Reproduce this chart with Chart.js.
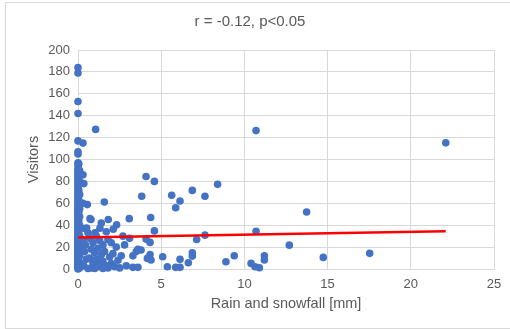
<!DOCTYPE html>
<html>
<head>
<meta charset="utf-8">
<script src="https://cdn.jsdelivr.net/npm/chart.js@4"></script>
<style>
  html, body { margin: 0; padding: 0; background: #fff; overflow: hidden; width: 510px; height: 329px; }
  #frame { position: absolute; left: 5px; top: 2px; width: 556px; height: 325px; border: 1px solid #d9d9d9; }
  #frame canvas { position: absolute; left: 0; top: 0; }
</style>
</head>
<body>
<div id="frame"><canvas id="chart" width="556" height="325"></canvas></div>
<script>
// rain and snowfall [mm] per day
const rain = [
	0,0,0,0,0,0,0,0,0,0,0,0,0,0,0,0,0,0,0,0,0,0,0,0,0,0,0,0,0,0,
	0,0,0,0,0,0,0,0,0,0,0,0,0,0,0,0,0,0,0,0,0,0,0,0,0,0,0,0,0,0,
	0,0,0,0,0,0,0,0,0,0,0,0,0,0,0,
	0.3,0.05,0.1,0.3,0.1,0.35,0.05,0.1,0.05,0.3,0.1,0.05,0.1,0.05,0.1,0.4,0.05,0.1,0.3,0.45,0.1,0.4,0.1,0.5,0.1,0.35,0.1,0.6,
	0.56,0.78,0.72,1.58,1.82,3.08,2.32,2.12,1.32,0.52,1.02,1.06,
	0.7,0.9,1.1,1.3,1.5,1.8,2.0,2.3,0.8,1.0,1.2,1.4,1.6,1.9,2.1,2.4,2.6,0.7,0.9,1.1,1.3,1.5,1.7,2.0,2.2,2.5,0.8,1.0,1.2,1.5,1.8,2.9,3.3,3.6,3.5,3.6,3.3,2.8,3.1,0.6,1.7,2.7,1.4,
	3.79,4.33,4.17,4.39,4.09,4.33,4.59,4.37,4.09,4.59,3.83,
	5.09,5.37,5.87,6.13,6.13,6.63,6.87,6.87,7.13,7.63,5.63,6.87,8.39,7.63,6.13,5.87,
	8.89,9.39,10.4,10.64,10.9,11.2,11.2,10.7,10.7,
	12.7,13.74,14.74,17.53,22.1
]
// visitors on the same days
const visitors = [
	0,1,2,3,4,5,6,7,8,9,10,11,12,13,14,15,16,17,18,19,20,21,22,23,24,25,26,27,28,29,
	30,32,33,35,36,38,39,41,42,44,45,47,48,50,51,53,55,56,58,60,62,64,66,68,70,72,74,76,78,80,
	82,84,86,88,90,92,95,97,105,107,117,142,153,179,184,
	115,96,90,86,80,78,72,68,63,60,55,52,48,44,40,37,34,30,26,22,19,16,12,9,6,3,1,0.5,
	58.8,45.2,46,61.2,45.2,46,40.3,36.4,37.3,37.5,33,127.5,
	28,24,30,26,22,27,24,20,18,15,19,13,16,11,14,8,12,10,6,9,4,7,3,5,2,1,1,0.5,2,0.5,1,3,1.5,1.5,16,18,12,22,28,33,34,30,42,
	17.3,13.3,9.7,8.2,27.3,24.3,34.8,47,84.5,80,66.4,
	11.2,2.1,1.5,1.5,8.8,5.7,14.8,11.8,27,30.9,67.3,71.8,77.3,66.4,62.1,56,
	6.6,12.1,5.1,2.1,1.2,12.1,8.2,34.5,126.4,
	21.8,52.1,10.6,14.3,115.2
]
// linear trendline ends
const trendX = [0, 22.1]
const trendY = [28.8, 34.5]

const xTicks = [0, 5, 10, 15, 20, 25]
const yTicks = [0, 20, 40, 60, 80, 100, 120, 140, 160, 180, 200]

const grey = "#595959"
const gridCol = "#d9d9d9"
const font = "'Liberation Sans', Arial, sans-serif"

const points = rain.map((r, i) => ({x: r, y: visitors[i]}))
const trend = trendX.map((t, i) => ({x: t, y: trendY[i]}))

new Chart(document.getElementById("chart"), {
	type: "scatter",
	data: {
		datasets: [
			{label: "Visitors", data: points, backgroundColor: "#4472C4", borderColor: "#4472C4", pointRadius: 3.8, pointHoverRadius: 3.8, borderWidth: 0, clip: false, order: 1},
			{label: "Trend", type: "line", data: trend, borderColor: "#FF0000", borderWidth: 2.5, pointRadius: 0, fill: false, order: 0}
		]
	},
	options: {
		responsive: false,
		animation: false,
		events: [],
		layout: {padding: {left: 0, right: 68, top: 0, bottom: 0}},
		plugins: {
			legend: {display: false},
			tooltip: {enabled: false},
			title: {display: true, text: "r = -0.12, p<0.05", color: grey, font: {family: font, size: 15, weight: "normal"}, padding: {top: 10, bottom: 19}}
		},
		scales: {
			x: {
				type: "linear", min: 0, max: 25,
				afterBuildTicks: s => { s.ticks = xTicks.map(v => ({value: v})) },
				afterFit: s => { s.height = 59 },
				grid: {color: gridCol, drawTicks: false},
				border: {color: gridCol},
				ticks: {color: grey, padding: 8, font: {family: font, size: 13}},
				title: {display: true, text: "Rain and snowfall [mm]", color: grey, font: {family: font, size: 14.5}, padding: {top: 0, bottom: 15}}
			},
			y: {
				type: "linear", min: 0, max: 200,
				afterBuildTicks: s => { s.ticks = yTicks.map(v => ({value: v})) },
				afterFit: s => { s.width = 72 },
				grid: {color: gridCol, drawTicks: false},
				border: {color: gridCol},
				ticks: {color: grey, padding: 8, font: {family: font, size: 13}},
				title: {display: true, text: "Visitors", color: grey, font: {family: font, size: 14.5}, padding: {top: 19, bottom: 0}}
			}
		}
	}
})
</script>
</body>
</html>
